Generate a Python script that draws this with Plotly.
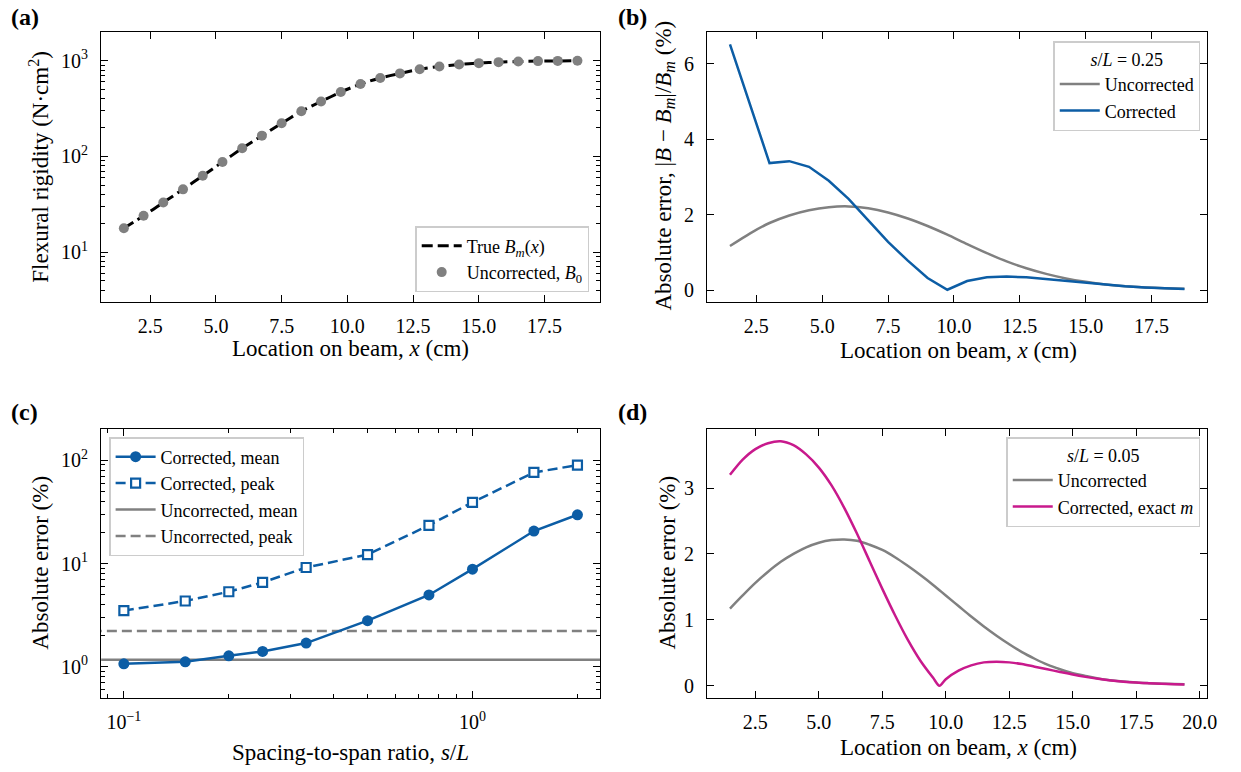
import numpy as np
import plotly.graph_objects as go

W, H = 1241, 772
FONT = "Liberation Serif, Times New Roman, serif"
BLUE = "#0C5DA5"
GRAY = "#808080"
MAGENTA = "#C8198C"

# ---------------- data ----------------
# (a) flexural rigidity along the beam
x_beam = [1.5, 2.25, 3.0, 3.75, 4.5, 5.25, 6.0, 6.75, 7.5, 8.25, 9.0, 9.75,
          10.5, 11.25, 12.0, 12.75, 13.5, 14.25, 15.0, 15.75, 16.5, 17.25, 18.0, 18.75]
B_true = [17.7, 23.9, 33.0, 45.2, 62.7, 87.3, 121.6, 164.8, 222, 297, 375, 471,
          571, 661, 738, 815, 872, 914, 945, 968, 983, 992, 997, 999]
B_uncorrected = [17.7, 23.9, 33.0, 45.2, 62.7, 87.3, 121.6, 164.8, 222, 297, 375, 471,
                 571, 661, 738, 815, 872, 914, 945, 968, 983, 992, 997, 999]

# (b) absolute error along the beam, s/L = 0.25
err_b_uncorr = [1.17, 1.50, 1.78, 1.98, 2.12, 2.20, 2.22, 2.17, 2.06, 1.90, 1.70, 1.47,
                1.22, 0.98, 0.76, 0.58, 0.43, 0.31, 0.22, 0.15, 0.10, 0.07, 0.05, 0.035]
err_b_corr = [6.52, 4.95, 3.37, 3.42, 3.27, 2.90, 2.42, 1.85, 1.28, 0.78, 0.32, 0.01,
              0.24, 0.34, 0.36, 0.34, 0.29, 0.24, 0.19, 0.14, 0.10, 0.07, 0.05, 0.03]

# (c) error versus spacing-to-span ratio
sL = [0.1, 0.15, 0.2, 0.25, 1/3, 0.5, 0.75, 1.0, 1.5, 2.0]
corr_mean = [1.07, 1.12, 1.28, 1.41, 1.70, 2.80, 4.96, 8.81, 20.6, 29.6]
corr_peak = [3.50, 4.34, 5.33, 6.56, 9.15, 12.2, 23.4, 39.1, 76.0, 89.5]
uncorr_mean = 1.17
uncorr_peak = 2.22

# (d) absolute error along the beam, s/L = 0.05
x_fine = [1.5, 2.0, 2.5, 3.0, 3.5, 4.0, 4.5, 5.0, 5.5, 6.0, 6.5, 7.0, 7.5, 8.0, 8.5,
          9.0, 9.5, 9.75, 10.0, 10.5, 11.0, 11.5, 12.0, 12.5, 13.0, 13.5, 14.0, 14.5,
          15.0, 15.5, 16.0, 16.5, 17.0, 17.5, 18.0, 18.5, 19.0, 19.4]
err_d_uncorr = [1.17, 1.37, 1.56, 1.73, 1.88, 2.00, 2.10, 2.17, 2.21, 2.22, 2.20, 2.14,
                2.06, 1.95, 1.82, 1.68, 1.53, 1.45, 1.37, 1.21, 1.05, 0.90, 0.76, 0.63,
                0.51, 0.41, 0.32, 0.25, 0.19, 0.15, 0.11, 0.085, 0.065, 0.05, 0.04,
                0.032, 0.026, 0.022]
err_d_corr = [3.20, 3.43, 3.59, 3.68, 3.71, 3.65, 3.51, 3.31, 3.04, 2.70, 2.31, 1.89,
              1.47, 1.07, 0.70, 0.38, 0.12, 0.0, 0.10, 0.23, 0.31, 0.355, 0.365, 0.355,
              0.33, 0.29, 0.25, 0.21, 0.17, 0.135, 0.105, 0.08, 0.062, 0.048, 0.038,
              0.03, 0.024, 0.02]

# ---------------- helpers ----------------
def xdom(p0, p1):
    return [p0 / W, p1 / W]


def ydom(top, bot):
    return [1 - bot / H, 1 - top / H]


def lin_range(vals, m=0.05):
    lo, hi = min(vals), max(vals)
    d = (hi - lo) * m
    return [lo - d, hi + d]


def log_range(vals, m=0.05):
    lo, hi = np.log10(min(vals)), np.log10(max(vals))
    d = (hi - lo) * m
    return [lo - d, hi + d]


def sup(base, exp):
    return f"{base}<sup>{exp}</sup>"


axis_common = dict(
    showline=True, linecolor="black", linewidth=1.3, mirror="allticks",
    ticks="inside", ticklen=7, tickwidth=1.1, tickcolor="black",
    showgrid=False, zeroline=False,
    tickfont=dict(size=20, family=FONT, color="black"),
)


def minor(vals):
    return dict(ticks="inside", ticklen=4, tickwidth=1, tickcolor="black",
                tickvals=vals, showgrid=False)


fig = go.Figure()

# ---- (a)
fig.add_trace(go.Scatter(
    x=x_beam, y=B_true, mode="lines", name="True <i>B<sub>m</sub></i>(<i>x</i>)",
    line=dict(color="black", width=3, dash="11px,5px", shape="spline", smoothing=0.6),
    xaxis="x", yaxis="y", legend="legend"))
fig.add_trace(go.Scatter(
    x=x_beam, y=B_uncorrected, mode="markers", name="Uncorrected, <i>B</i><sub>0</sub>",
    marker=dict(color=GRAY, size=10, line=dict(width=0)),
    xaxis="x", yaxis="y", legend="legend"))

# ---- (b)
fig.add_trace(go.Scatter(
    x=x_beam, y=err_b_uncorr, mode="lines", name="Uncorrected",
    line=dict(color=GRAY, width=2.5, shape="spline", smoothing=0.6),
    xaxis="x2", yaxis="y2", legend="legend2"))
fig.add_trace(go.Scatter(
    x=x_beam, y=err_b_corr, mode="lines", name="Corrected",
    line=dict(color=BLUE, width=2.5), xaxis="x2", yaxis="y2", legend="legend2"))

# ---- (c)
xr_c = log_range(sL)
x_span = [10 ** (xr_c[0] - 0.5), 10 ** (xr_c[1] + 0.5)]
fig.add_trace(go.Scatter(
    x=x_span, y=[uncorr_mean, uncorr_mean], mode="lines", name="Uncorrected, mean",
    line=dict(color=GRAY, width=2.5), xaxis="x3", yaxis="y3", legend="legend3",
    legendrank=3))
fig.add_trace(go.Scatter(
    x=x_span, y=[uncorr_peak, uncorr_peak], mode="lines", name="Uncorrected, peak",
    line=dict(color=GRAY, width=2.5, dash="10px,5px"), xaxis="x3", yaxis="y3",
    legend="legend3", legendrank=4))
fig.add_trace(go.Scatter(
    x=sL, y=corr_mean, mode="lines+markers", name="Corrected, mean",
    line=dict(color=BLUE, width=2.5),
    marker=dict(symbol="circle", size=11, color=BLUE, line=dict(width=0)),
    xaxis="x3", yaxis="y3", legend="legend3", legendrank=1))
fig.add_trace(go.Scatter(
    x=sL, y=corr_peak, mode="lines+markers", name="Corrected, peak",
    line=dict(color=BLUE, width=2.5, dash="10px,5px"),
    marker=dict(symbol="square", size=9, color="white", line=dict(color=BLUE, width=2.2)),
    xaxis="x3", yaxis="y3", legend="legend3", legendrank=2))

# ---- (d)
fig.add_trace(go.Scatter(
    x=x_fine, y=err_d_uncorr, mode="lines", name="Uncorrected",
    line=dict(color=GRAY, width=2.5, shape="spline", smoothing=1.0),
    xaxis="x4", yaxis="y4", legend="legend4"))
fig.add_trace(go.Scatter(
    x=x_fine, y=err_d_corr, mode="lines", name="Corrected, exact <i>m</i>",
    line=dict(color=MAGENTA, width=2.5, shape="spline", smoothing=0.8),
    xaxis="x4", yaxis="y4", legend="legend4"))

# ---------------- axes ----------------
xticks_beam = [2.5, 5.0, 7.5, 10.0, 12.5, 15.0, 17.5]
minor_a_y = [v * 10 ** k for k in range(0, 4) for v in range(2, 10)]
minor_c_x = [v * 10 ** k for k in range(-2, 1) for v in range(2, 10)]
minor_c_y = [v * 10 ** k for k in range(-1, 3) for v in range(2, 10)]

fig.update_layout(
    xaxis=dict(axis_common, domain=xdom(102, 605), anchor="y", range=lin_range(x_beam),
               tickvals=xticks_beam, ticktext=[f"{v:.1f}" for v in xticks_beam],
               ticklabelstandoff=6),
    yaxis=dict(axis_common, domain=ydom(32, 302), anchor="x", type="log",
               range=[np.log10(3), np.log10(2000)],
               tickvals=[10, 100, 1000], ticktext=[sup(10, 1), sup(10, 2), sup(10, 3)],
               minor=minor(minor_a_y), ticklabelstandoff=8),
    xaxis2=dict(axis_common, domain=xdom(713, 1217), anchor="y2", range=lin_range(x_beam),
                tickvals=xticks_beam, ticktext=[f"{v:.1f}" for v in xticks_beam],
                ticklabelstandoff=6),
    yaxis2=dict(axis_common, domain=ydom(32, 302), anchor="x2",
                range=lin_range(err_b_corr + err_b_uncorr),
                tickvals=[0, 2, 4, 6], ticklabelstandoff=8),
    xaxis3=dict(axis_common, domain=xdom(102, 605), anchor="y3", type="log", range=xr_c,
                tickvals=[0.1, 1], ticktext=[sup(10, "−1"), sup(10, 0)],
                minor=minor(minor_c_x), ticklabelstandoff=6),
    yaxis3=dict(axis_common, domain=ydom(429, 698), anchor="x3", type="log",
                range=[np.log10(0.5), np.log10(200)],
                tickvals=[1, 10, 100], ticktext=[sup(10, 0), sup(10, 1), sup(10, 2)],
                minor=minor(minor_c_y), ticklabelstandoff=8),
    xaxis4=dict(axis_common, domain=xdom(713, 1217), anchor="y4", range=lin_range(x_fine),
                tickvals=xticks_beam + [20.0],
                ticktext=[f"{v:.1f}" for v in xticks_beam + [20.0]],
                ticklabelstandoff=6),
    yaxis4=dict(axis_common, domain=ydom(429, 698), anchor="x4",
                range=lin_range(err_d_corr + err_d_uncorr),
                tickvals=[0, 1, 2, 3], ticklabelstandoff=8),
)

leg_common = dict(bgcolor="rgba(255,255,255,0.85)", bordercolor="#cccccc", borderwidth=1.5,
                  font=dict(size=18, family=FONT, color="black"),
                  xref="paper", yref="paper", itemwidth=40)

fig.update_layout(
    legend=dict(leg_common, x=594 / W, y=1 - 292 / H, xanchor="right", yanchor="bottom"),
    legend2=dict(leg_common, x=1210 / W, y=1 - 41 / H, xanchor="right", yanchor="top",
                 title=dict(text="<i>s</i>/<i>L</i> = 0.25", side="top center",
                            font=dict(size=18, family=FONT))),
    legend3=dict(leg_common, x=110 / W, y=1 - 437 / H, xanchor="left", yanchor="top"),
    legend4=dict(leg_common, x=1210 / W, y=1 - 437 / H, xanchor="right", yanchor="top",
                 title=dict(text="<i>s</i>/<i>L</i> = 0.05", side="top center",
                            font=dict(size=18, family=FONT))),
)

# ---------------- text ----------------
ann = []


def add_text(text, px, py, size, angle=0):
    ann.append(dict(text=text, x=px / W, y=1 - py / H, xref="paper", yref="paper",
                    xanchor="center", yanchor="middle", showarrow=False, textangle=angle,
                    font=dict(size=size, family=FONT, color="black")))


for lab, px, py in [("(a)", 25, 17), ("(b)", 638, 17), ("(c)", 25, 412), ("(d)", 638, 412)]:
    add_text(f"<b>{lab}</b>", px, py, 24)

add_text("Location on beam, <i>x</i> (cm)", 353, 348, 23)
add_text("Location on beam, <i>x</i> (cm)", 966, 350, 23)
add_text("Spacing-to-span ratio, <i>s</i>/<i>L</i>", 353, 752, 23)
add_text("Location on beam, <i>x</i> (cm)", 966, 747, 23)
add_text("Flexural rigidity (N·cm<sup>2</sup>)", 39, 167, 23, -90)
add_text("Absolute error, |<i>B</i> − <i>B<sub>m</sub></i>|/<i>B<sub>m</sub></i> (%)",
         670, 166, 23, -90)
add_text("Absolute error (%)", 40, 563, 23, -90)
add_text("Absolute error (%)", 672, 563, 23, -90)

fig.update_layout(
    annotations=ann,
    width=W, height=H, margin=dict(l=0, r=0, t=0, b=0),
    paper_bgcolor="white", plot_bgcolor="white",
    font=dict(family=FONT, color="black"),
    showlegend=True,
)

fig.write_html("out.html")
